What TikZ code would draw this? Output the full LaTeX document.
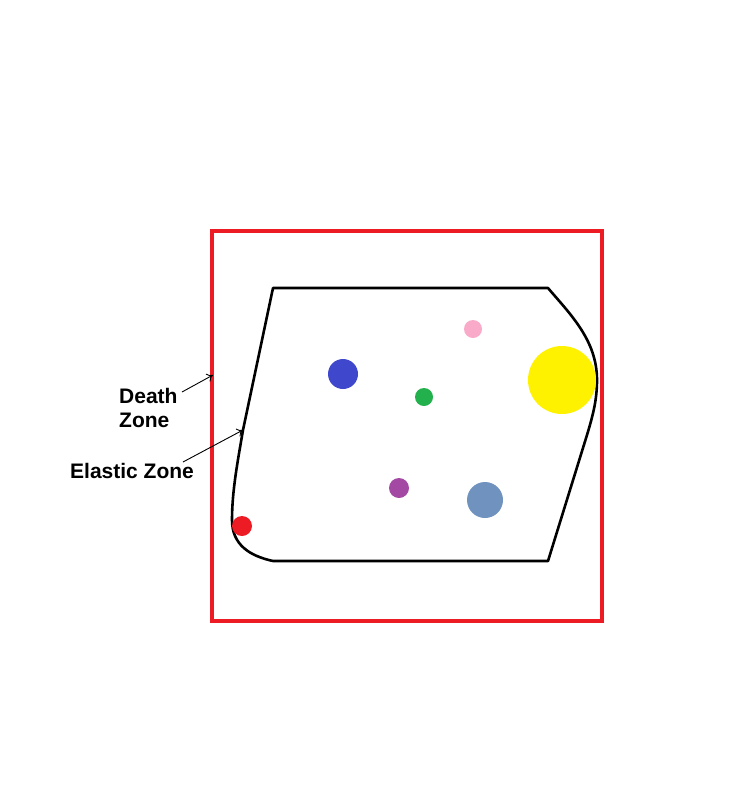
\documentclass[tikz,border=0pt]{standalone}
\usepackage{fontspec}
\setmainfont{Liberation Sans}
\usetikzlibrary{arrows.meta}
\begin{document}
\begin{tikzpicture}[x=1pt,y=-1pt,
  lbl/.style={font=\bfseries\fontsize{21}{24}\selectfont, inner sep=0pt, align=left},
  pointer/.style={line width=0.9pt,-{To[length=6pt,width=9pt]}},
  dot/.style={circle, inner sep=0pt, draw=none}]
\useasboundingbox (0,0) rectangle (750,793);
\draw[line width=4pt, color={rgb,255:red,237;green,28;blue,36}] (212,231) rectangle (602,621);
\draw[line width=2.6pt, line join=round]
  (273,288) -- (548,288)
  .. controls (570,314) and (597,340) .. (597,380)
  .. controls (597,400) and (593,415) .. (587,435)
  -- (548,561) -- (273,561)
  .. controls (250,556) and (232,545) .. (232,520)
  .. controls (232,490) and (238,460) .. (243,430)
  -- cycle;
\node[dot, minimum size=18pt, fill={rgb,255:red,249;green,170;blue,200}] (pink) at (473,329) {};
\node[dot, minimum size=30pt, fill={rgb,255:red,63;green,72;blue,204}] (blue) at (343,374) {};
\node[dot, minimum size=18pt, fill={rgb,255:red,34;green,177;blue,76}] (green) at (424,397) {};
\node[dot, minimum size=68pt, fill={rgb,255:red,255;green,242;blue,0}] (yellow) at (562,380) {};
\node[dot, minimum size=20pt, fill={rgb,255:red,163;green,73;blue,164}] (purple) at (399,488) {};
\node[dot, minimum size=36pt, fill={rgb,255:red,112;green,146;blue,190}] (steel) at (485,500) {};
\node[dot, minimum size=20pt, fill={rgb,255:red,237;green,28;blue,36}] (reddot) at (242,526) {};
\node[lbl, anchor=north west] (death) at (119,388) {Death\\Zone};
\node[lbl, anchor=north west] (elastic) at (70,463) {Elastic Zone};
\coordinate (deathtip) at (213,375);
\coordinate (elastictip) at (243,430);
\coordinate (ds) at (182,392);
\coordinate (es) at (183,462);
\draw[pointer] (ds) -- (deathtip);
\draw[pointer] (es) -- (elastictip);
\end{tikzpicture}
\end{document}
